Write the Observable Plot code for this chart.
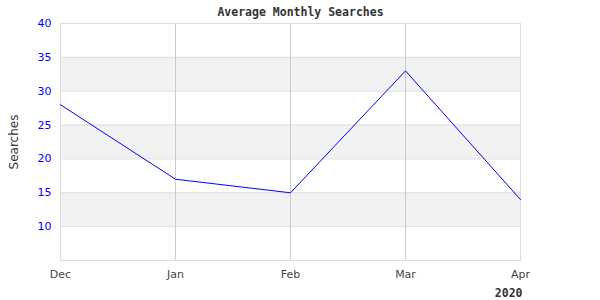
<!DOCTYPE html>
<html><head><meta charset="utf-8">
<script src="https://cdn.jsdelivr.net/npm/d3@7"></script>
<script src="https://cdn.jsdelivr.net/npm/@observablehq/plot@0.6"></script>
<style>body{margin:0;background:#fff}</style>
</head><body><div id="c"></div>
<script>
const months = ["Dec", "Jan", "Feb", "Mar", "Apr"];
const searches = [28, 17, 15, 33, 14];
const yTicks = [10, 15, 20, 25, 30, 35, 40];
const bandLow = [10, 20, 30];
const bandHigh = [15, 25, 35];
const title = "Average Monthly Searches";
const yLabel = "Searches";
const yearLabel = "2020";

const data = months.map((m, i) => ({month: m, value: searches[i]}));
const bands = bandLow.map((lo, i) => ({lo, hi: bandHigh[i]}));
const mono = "'DejaVu Sans Mono', monospace";
const sans = "'DejaVu Sans', sans-serif";

const chart = Plot.plot({
  width: 600, height: 300,
  marginLeft: 60, marginRight: 80, marginTop: 23, marginBottom: 40,
  style: {fontFamily: sans, fontSize: "11px", background: "#fff"},
  x: {type: "point", domain: months, padding: 0, axis: null},
  y: {domain: [5, 40], axis: null},
  marks: [
    Plot.rect(bands, {y1: "lo", y2: "hi", fill: "#f2f2f2"}),
    Plot.ruleY(yTicks, {stroke: "#dddddd", strokeWidth: 1}),
    Plot.ruleX(months, {stroke: "#cccccc", strokeWidth: 1}),
    Plot.frame({stroke: "#dddddd", strokeWidth: 1}),
    Plot.line(data, {x: "month", y: "value", stroke: "blue", strokeWidth: 1}),
    Plot.axisY(yTicks, {tickSize: 0, tickPadding: 9, fill: "blue", label: null, fontSize: 11}),
    Plot.axisX(months, {tickSize: 0, tickPadding: 10, fill: "#444", label: null, fontSize: 11}),
    Plot.text([yLabel], {frameAnchor: "left", textAnchor: "middle", dx: -46, rotate: -90, fill: "#333", fontSize: 12}),
    Plot.text([title], {frameAnchor: "top", dx: 10, dy: -16, fontFamily: mono, fontWeight: "bold", fontSize: 11.5, fill: "#333"}),
    Plot.text([yearLabel], {frameAnchor: "bottom-right", dx: 2, dy: 36, fontFamily: mono, fontWeight: "bold", fontSize: 11.5, fill: "#333"})
  ]
});
document.getElementById("c").appendChild(chart);
</script>
</body></html>
